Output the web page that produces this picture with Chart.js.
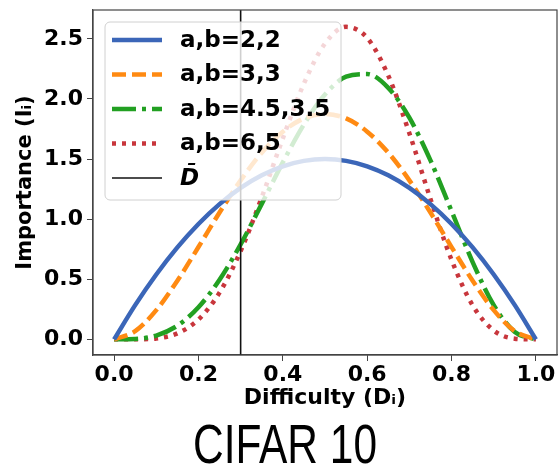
<!DOCTYPE html>
<html>
<head>
<meta charset="utf-8">
<script src="https://cdn.jsdelivr.net/npm/chart.js@4"></script>
<style>
  html, body { margin: 0; padding: 0; background: #fff; }
  #wrap { position: relative; width: 559px; height: 465px; }
</style>
</head>
<body>
<div id="wrap"><canvas id="chart" width="559" height="465"></canvas></div>
<script>
// difficulty values (x)
const difficulty = [0, 0.05, 0.1, 0.15, 0.2, 0.25, 0.3, 0.35, 0.4, 0.45, 0.5,
  0.55, 0.6, 0.65, 0.7, 0.75, 0.8, 0.85, 0.9, 0.95, 1.0];

// importance curves
const ab22 = [0, 0.285, 0.54, 0.765, 0.96, 1.125, 1.26, 1.365, 1.44, 1.485, 1.5,
  1.485, 1.44, 1.365, 1.26, 1.125, 0.96, 0.765, 0.54, 0.285, 0];
const ab33 = [0, 0.068, 0.243, 0.488, 0.768, 1.055, 1.323, 1.553, 1.728, 1.838, 1.875,
  1.838, 1.728, 1.553, 1.323, 1.055, 0.768, 0.488, 0.243, 0.068, 0];
const ab4535 = [0, 0.003, 0.032, 0.114, 0.267, 0.496, 0.79, 1.127, 1.472, 1.788, 2.037,
  2.185, 2.207, 2.092, 1.844, 1.489, 1.068, 0.643, 0.285, 0.061, 0];
const ab65 = [0, 0.0003, 0.008, 0.05, 0.165, 0.389, 0.735, 1.181, 1.672, 2.128, 2.461,
  2.6, 2.508, 2.194, 1.715, 1.168, 0.661, 0.283, 0.074, 0.006, 0];

const seriesLabels = ["a,b=2,2", "a,b=3,3", "a,b=4.5,3.5", "a,b=6,5"];
const dBar = 0.3;
const dBarLabel = "D\u0304";

const xTicks = [0, 0.2, 0.4, 0.6, 0.8, 1.0];
const yTicks = [0, 0.5, 1.0, 1.5, 2.0, 2.5];

const colors = ["#3b66b8", "#ff8a12", "#22a022", "#c8363c"];
const dashes = [[], [14, 6], [24, 6, 4, 6], [4, 6]];

const toPoints = (ys) => difficulty.map((x, i) => ({ x: x, y: ys[i] }));

const tickFont = { family: "DejaVu Sans", size: 22, weight: "bold" };

const datasets = [ab22, ab33, ab4535, ab65].map((ys, i) => ({
  label: seriesLabels[i],
  data: toPoints(ys),
  borderColor: colors[i],
  backgroundColor: colors[i],
  borderWidth: 4.5,
  borderDash: dashes[i],
  borderCapStyle: "butt",
  pointRadius: 0,
  cubicInterpolationMode: "monotone",
  fill: false,
}));

// vertical mean-difficulty line, frame, legend, caption
const extras = {
  id: "extras",
  afterDatasetsDraw(chart) {
    const { ctx, chartArea: a, scales } = chart;
    const xp = scales.x.getPixelForValue(dBar);
    ctx.save();
    ctx.strokeStyle = "#111";
    ctx.lineWidth = 1.6;
    ctx.beginPath();
    ctx.moveTo(xp, a.top);
    ctx.lineTo(xp, a.bottom);
    ctx.stroke();

    // legend box
    const bx = a.left + 12, by = a.top + 12, bw = 236, bh = 178;
    ctx.beginPath();
    ctx.roundRect(bx, by, bw, bh, 5);
    ctx.fillStyle = "rgba(255,255,255,0.8)";
    ctx.fill();
    ctx.strokeStyle = "#d0d0d0";
    ctx.lineWidth = 1;
    ctx.stroke();

    const rowH = 34.5;
    const entries = datasets.map((d) => ({ text: d.label, color: d.borderColor, dash: d.borderDash, w: 4.5 }));
    entries.push({ text: dBarLabel, color: "#111", dash: [], w: 1.6, italic: true });
    entries.forEach((e, i) => {
      const y = by + 18 + i * rowH;
      ctx.beginPath();
      ctx.setLineDash(e.dash);
      ctx.lineCap = "butt";
      ctx.strokeStyle = e.color;
      ctx.lineWidth = e.w;
      ctx.moveTo(bx + 7, y);
      ctx.lineTo(bx + 57, y);
      ctx.stroke();
      ctx.setLineDash([]);
      ctx.fillStyle = "#000";
      ctx.font = (e.italic ? "italic " : "") + "bold 23px 'DejaVu Sans'";
      ctx.textBaseline = "middle";
      ctx.textAlign = "left";
      ctx.fillText(e.text, bx + 75, y + 1);
    });

    // axes frame
    ctx.strokeStyle = "#444";
    ctx.lineWidth = 1.2;
    ctx.strokeRect(a.left, a.top, a.right - a.left, a.bottom - a.top);
    ctx.restore();
  },
  afterDraw(chart) {
    const { ctx } = chart;
    ctx.save();
    ctx.font = "56px 'Liberation Sans Narrow', 'Liberation Sans'";
    ctx.fillStyle = "#000";
    ctx.textBaseline = "alphabetic";
    ctx.textAlign = "left";
    const txt = "CIFAR 10";
    const w = ctx.measureText(txt).width;
    const target = 184;
    ctx.translate(193, 463);
    ctx.scale(target / w, 1);
    ctx.fillText(txt, 0, 0);
    ctx.restore();
  }
};

new Chart(document.getElementById("chart"), {
  type: "line",
  data: { datasets: datasets },
  plugins: [extras],
  options: {
    responsive: false,
    animation: false,
    layout: { padding: { top: 10, right: 2, left: 0, bottom: 50 } },
    plugins: { legend: { display: false }, tooltip: { enabled: false } },
    scales: {
      x: {
        type: "linear",
        min: -0.05,
        max: 1.05,
        afterBuildTicks: (s) => { s.ticks = xTicks.map((v) => ({ value: v })); },
        afterFit: (s) => { s.height = 60; s.paddingLeft = 0; s.paddingRight = 0; },
        ticks: { font: tickFont, color: "#000", padding: 1, maxRotation: 0,
          callback: (v) => v.toFixed(1) },
        grid: { drawOnChartArea: false, drawTicks: true, tickLength: 6, color: "#444" },
        border: { display: true, color: "#444", width: 1.2 },
        title: { display: true, text: "Difficulty (D\u1D62)", color: "#000",
          font: { family: "DejaVu Sans", size: 22, weight: "bold" }, padding: { top: 0, bottom: 4 } },
      },
      y: {
        type: "linear",
        min: -0.13,
        max: 2.74,
        afterBuildTicks: (s) => { s.ticks = yTicks.map((v) => ({ value: v })); },
        afterFit: (s) => { s.width = 93; s.paddingTop = 0; s.paddingBottom = 0; },
        ticks: { font: tickFont, color: "#000", padding: 4,
          callback: (v) => v.toFixed(1) },
        grid: { drawOnChartArea: false, drawTicks: true, tickLength: 6, color: "#444" },
        border: { display: true, color: "#444", width: 1.2 },
        title: { display: true, text: "Importance (I\u1D62)", color: "#000",
          font: { family: "DejaVu Sans", size: 21, weight: "bold" }, padding: { top: 13, bottom: 0 } },
      },
    },
  },
});
</script>
</body>
</html>
